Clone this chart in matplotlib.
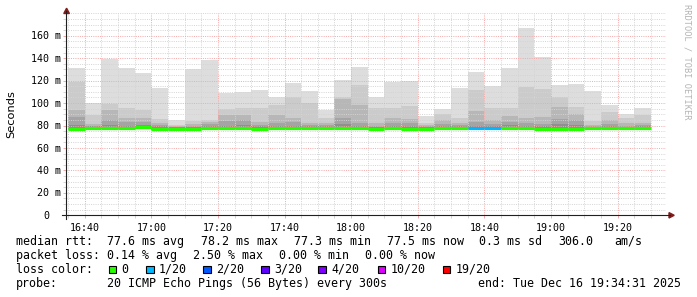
import matplotlib.pyplot as plt
import matplotlib.transforms as mtransforms
from matplotlib.patches import Rectangle, Polygon
from matplotlib.lines import Line2D

# ---- values (ms) ----

# end time of every 5 minute step
step_end = ["16:40", "16:45", "16:50", "16:55", "17:00", "17:05", "17:10",
            "17:15", "17:20", "17:25", "17:30", "17:35", "17:40", "17:45",
            "17:50", "17:55", "18:00", "18:05", "18:10", "18:15", "18:20",
            "18:25", "18:30", "18:35", "18:40", "18:45", "18:50", "18:55",
            "19:00", "19:05", "19:10", "19:15", "19:20", "19:25", "19:30"]

ping_max = [131, 100, 139, 131, 126.5, 113.5, 85, 130, 138.5, 109, 110, 111.5,
            105, 118, 110.5, 94, 120.5, 132, 105.5, 119, 120, 88.5, 95, 113.5,
            128, 115.5, 131, 167, 141.5, 116, 117, 110.5, 98.5, 90, 96]
smoke_2 = [119, 89, 99, 96, 94, 86, 80.5, 84, 85, 95, 96, 96, 98, 105, 100,
           86.5, 105.5, 116, 96, 95.5, 97.5, 82.5, 90, 86.5, 111.5, 96, 96,
           114.5, 112.5, 105, 96.5, 84, 92, 87, 89.5]
smoke_3 = [94, 81.5, 94, 87, 86.5, 82.5, 79.5, 81, 83, 89, 89.5, 83, 89.5, 86.5,
           82, 82, 103.5, 98, 82, 86.5, 86, 80.5, 85, 82, 93, 85, 88.5, 86.5,
           88, 96.5, 90, 80.5, 85, 82, 82.5]
smoke_4 = [87.5, 80, 85, 83.5, 83, 80.5, 79, 80, 81.5, 84, 85, 80.5, 82.5, 83,
           80.5, 80.5, 86.5, 82, 80, 82, 82, 79.5, 81, 80.5, 83.5, 81.5, 83,
           82.5, 81, 86, 85, 79.5, 81.5, 80, 80.5]
smoke_5 = [80.5, 79.5, 80.5, 80, 80.5, 79.5, 78.5, 79, 79.5, 80, 80.5, 79.5, 80,
           80, 79.5, 79.5, 81, 80, 79, 80, 80, 78.5, 79.5, 79.5, 80, 79.5, 80.5,
           80, 79.5, 81, 80.5, 78.5, 80, 79, 79.5]
ping_min = [76.2, 76.6, 76.6, 76.5, 76.9, 76.3, 76.2, 76.2, 76.5, 76.5, 76.5,
            76.3, 76.5, 76.5, 76.8, 76.7, 76.6, 76.5, 76.3, 76.5, 76.3, 76.3,
            76.5, 76.5, 76.5, 76.5, 76.7, 76.6, 76.3, 76.3, 76.3, 76.5, 76.5,
            76.5, 76.4]
median = [77.0, 77.8, 77.8, 77.8, 78.3, 77.2, 77.0, 77.0, 77.6, 77.6, 77.6,
          77.3, 77.6, 77.6, 78.2, 78.0, 77.8, 77.6, 77.3, 77.6, 77.3, 77.3,
          77.6, 77.6, 77.6, 77.6, 78.0, 77.8, 77.3, 77.3, 77.3, 77.6, 77.6,
          77.6, 77.5]
# lost pings out of 20 per step
loss = [0] * 24 + [1, 1] + [0] * 9

loss_levels = [0, 1, 2, 3, 4, 10, 19]
loss_labels = ["0", "1/20", "2/20", "3/20", "4/20", "10/20", "19/20"]
loss_colors = ["#26ff00", "#00b8ff", "#0059ff", "#5e00ff", "#7e00ff",
               "#dd00ff", "#ff0000"]

y_ticks = [0, 20, 40, 60, 80, 100, 120, 140, 160]
y_labels = ["0", "20 m", "40 m", "60 m", "80 m", "100 m", "120 m", "140 m",
            "160 m"]
x_labels = ["16:40", "17:00", "17:20", "17:40", "18:00", "18:20", "18:40",
            "19:00", "19:20"]


def to_min(s):
    h, m = s.split(":")
    return int(h) * 60 + int(m)


W, H = 697, 297
MONO = "DejaVu Sans Mono"

fig = plt.figure(figsize=(W / 100, H / 100), dpi=100)
fig.patch.set_facecolor("white")


def px(x, y):
    # pixel from top-left -> figure fraction
    return x / W, 1 - y / H


ax_l, ax_r, ax_t, ax_b = 66.4, 666.0, 13.3, 215.3
ax = fig.add_axes([ax_l / W, 1 - ax_b / H, (ax_r - ax_l) / W, (ax_b - ax_t) / H])
ax.set_facecolor("white")

x = [to_min(t) for t in step_end]

# smoke, lightest (outermost pings) first
layers = [(ping_max, "#dddddd"), (smoke_2, "#cbcbcb"), (smoke_3, "#b7b7b7"),
          (smoke_4, "#a4a4a4"), (smoke_5, "#8f8f8f")]
for vals, col in layers:
    ax.bar(x, [v - lo for v, lo in zip(vals, ping_min)], bottom=ping_min,
           width=-5, align="edge", color=col, linewidth=0, zorder=1)

# median line coloured by packet loss
cmap = dict(zip(loss_levels, loss_colors))
ax.hlines(median, [t - 5 for t in x], x, colors=[cmap[l] for l in loss],
          linewidth=2.3, capstyle="butt", zorder=3)

ax.set_xlim(to_min("16:34") + 31 / 60, to_min("19:34") + 31 / 60)
ax.set_ylim(0, 180)

ax.set_xticks([to_min(s) for s in x_labels])
ax.set_xticklabels(x_labels, fontfamily=MONO, fontsize=7.2)
ax.set_xticks(range(to_min("16:35"), to_min("19:35"), 5), minor=True)
ax.set_yticks(y_ticks)
ax.set_yticklabels([])
ax.set_yticks(range(0, 181, 5), minor=True)

ax.set_axisbelow(False)
ax.grid(which="minor", color="#d4d4d4", linestyle=(0, (1, 1.3)), linewidth=0.7)
ax.grid(which="major", color="#f3a8a8", linestyle=(0, (1, 1.3)), linewidth=0.7)
ax.tick_params(which="minor", length=2, color="#d4d4d4", width=0.7)
ax.tick_params(which="major", length=2, color="#f3a8a8", width=0.7,
               pad=3.6, labelcolor="black")
for s in ax.spines.values():
    s.set_visible(False)

# y labels, right aligned in mono like rrdtool
ytrans = ax.get_yaxis_transform()
for v, lab in zip(y_ticks, y_labels):
    dx = -17.4 if lab == "0" else -5.9
    tr = mtransforms.offset_copy(ytrans, fig=fig, x=dx, y=-3.6, units="dots")
    ax.text(0, v, lab, transform=tr, ha="right", va="baseline",
            fontfamily=MONO, fontsize=7.2, color="black")

# axis lines with arrows
fig.add_artist(Line2D([px(66.4, 0)[0]] * 2, [px(0, 218.5)[1], px(0, 11)[1]],
                      color="#202020", linewidth=0.8))
fig.add_artist(Line2D([px(62, 0)[0], px(670, 0)[0]], [px(0, 215.3)[1]] * 2,
                      color="#202020", linewidth=0.8))
fig.add_artist(Polygon([px(63.8, 13.5), px(69.4, 13.5), px(66.6, 8.2)],
                       closed=True, color="#801c1c"))
fig.add_artist(Polygon([px(669, 212.6), px(669, 218), px(674.2, 215.3)],
                       closed=True, color="#801c1c"))

fig.text(*px(11, 114), "Seconds", rotation=90, ha="center", va="center",
         fontfamily="DejaVu Sans", fontsize=8.2, color="black")
fig.text(*px(687, 4.5), "RRDTOOL / TOBI OETIKER", rotation=270, ha="center",
         va="top", fontfamily=MONO, fontsize=6.2, color="#b4b4b4")

# ---- legend ----
LF = 8.4
lines = [
    (245.0, [(16, "median rtt:"), (107, "77.6 ms avg"), (200.7, "78.2 ms max"),
             (293.5, "77.3 ms min"), (386.5, "77.5 ms now"),
             (479.3, "0.3 ms sd"), (558.3, "306.0"), (614, "am/s")]),
    (259.0, [(16, "packet loss:"), (107, "0.14 % avg"), (193.5, "2.50 % max"),
             (279.3, "0.00 % min"), (365, "0.00 % now")]),
    (287.3, [(16, "probe:"), (107, "20 ICMP Echo Pings (56 Bytes) every 300s"),
             (478.3, "end: Tue Dec 16 19:34:31 2025")]),
]
for yb, items in lines:
    for xx, s in items:
        fig.text(*px(xx, yb), s, ha="left", va="baseline", fontfamily=MONO,
                 fontsize=LF, color="black")

fig.text(*px(16, 272.8), "loss color:", ha="left", va="baseline",
         fontfamily=MONO, fontsize=LF, color="black")
box_x = [108.5, 146, 203.3, 261, 318.3, 377.7, 442.7]
for bx, lab, col in zip(box_x, loss_labels, loss_colors):
    x0, y0 = px(bx, 273)
    fig.add_artist(Rectangle((x0, y0), 7.5 / W, 7.5 / H, facecolor=col,
                             edgecolor="black", linewidth=0.8,
                             transform=fig.transFigure))
    fig.text(*px(bx + 12.8, 272.8), lab, ha="left", va="baseline",
             fontfamily=MONO, fontsize=LF, color="black")

fig.savefig("out.png", dpi=100, facecolor="white")
